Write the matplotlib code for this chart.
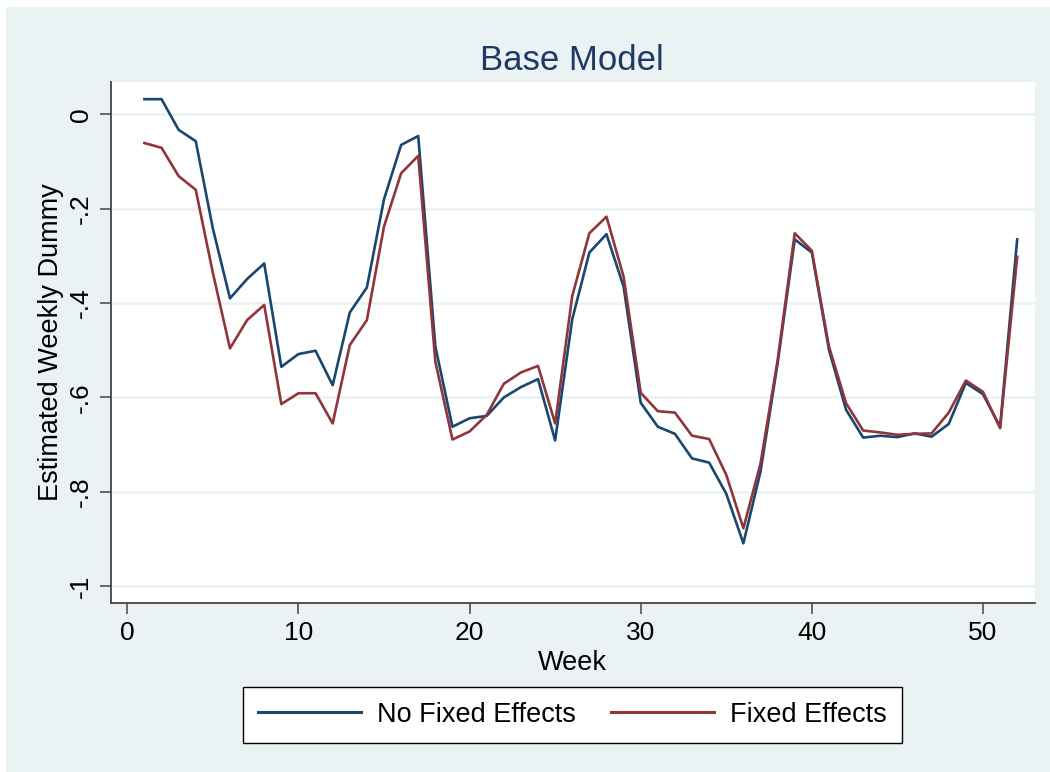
import matplotlib.pyplot as plt
import matplotlib.patches as mpatches
import numpy as np

plt.rcParams['font.family'] = ['Liberation Sans', 'DejaVu Sans']

weeks = np.arange(1, 53)

# no fixed effects
no_fe = [0.032, 0.032, -0.033, -0.057, -0.242, -0.390, -0.349, -0.316, -0.535, -0.508,
         -0.501, -0.574, -0.420, -0.367, -0.180, -0.065, -0.046, -0.492, -0.662, -0.644,
         -0.639, -0.600, -0.578, -0.561, -0.691, -0.434, -0.293, -0.254, -0.365, -0.611,
         -0.662, -0.677, -0.729, -0.738, -0.804, -0.909, -0.757, -0.528, -0.265, -0.293,
         -0.499, -0.626, -0.685, -0.681, -0.684, -0.676, -0.683, -0.656, -0.569, -0.593,
         -0.662, -0.265]

# with fixed effects
fe = [-0.061, -0.071, -0.131, -0.160, -0.336, -0.496, -0.436, -0.404, -0.614, -0.591,
      -0.591, -0.655, -0.489, -0.436, -0.238, -0.125, -0.088, -0.524, -0.689, -0.672,
      -0.637, -0.571, -0.547, -0.533, -0.655, -0.385, -0.252, -0.217, -0.344, -0.590,
      -0.629, -0.632, -0.681, -0.688, -0.764, -0.877, -0.740, -0.521, -0.252, -0.289,
      -0.492, -0.612, -0.670, -0.674, -0.679, -0.677, -0.676, -0.632, -0.564, -0.588,
      -0.665, -0.302]

yticks = [0, -0.2, -0.4, -0.6, -0.8, -1]
ytick_labels = ['0', '-.2', '-.4', '-.6', '-.8', '-1']
xticks = [0, 10, 20, 30, 40, 50]

bg = '#EAF2F3'
blue = '#1A476F'
red = '#90353B'

fig = plt.figure(figsize=(10.5, 7.72), dpi=100, facecolor='white')
# light graph region, thin white strip on top and left edges
fig.patches.append(mpatches.Rectangle((6/1050, -0.01), 1, 1.01 - 7/772, transform=fig.transFigure,
                                      facecolor=bg, edgecolor='none', zorder=-10))

ax = fig.add_axes([110.7/1050, 1-603.3/772, (1035-110.7)/1050, (603.3-81.7)/772])
ax.set_facecolor('white')

ax.plot(weeks, no_fe, color=blue, lw=1.9, label='No Fixed Effects', zorder=3)
ax.plot(weeks, fe, color=red, lw=1.9, label='Fixed Effects', zorder=3)

ax.set_xlim(-0.97, 53.04)
ax.set_ylim(-1.036, 0.069)
ax.set_yticks(yticks)
ax.set_yticklabels(ytick_labels, rotation=90, va='center')
ax.set_xticks(xticks)
ax.grid(axis='y', color=bg, lw=1.8, zorder=0)

for s in ['top', 'right']:
    ax.spines[s].set_visible(False)
for s in ['left', 'bottom']:
    ax.spines[s].set_color('#444444')
    ax.spines[s].set_linewidth(1.3)

ax.tick_params(axis='both', labelsize=19, length=8, width=1.1, color='#444444', pad=5)
ax.set_xlabel('Week', fontsize=19.5, labelpad=3)
ax.set_ylabel('Estimated Weekly Dummy', fontsize=19.5, labelpad=3)

fig.text(0.545, 0.922, 'Base Model', ha='center', va='center', fontsize=25, color='#1C3A63')

leg = fig.legend(loc='center', bbox_to_anchor=(0.545, 0.074), ncol=2, fontsize=19.5,
                 frameon=True, fancybox=False, edgecolor='black', facecolor='white',
                 framealpha=1, handlelength=3.8, handletextpad=0.6, columnspacing=1.3,
                 borderpad=0.55)
leg.get_frame().set_linewidth(1.0)
for line in leg.get_lines():
    line.set_linewidth(2.2)

fig.savefig('out.png', dpi=100, facecolor='white')
